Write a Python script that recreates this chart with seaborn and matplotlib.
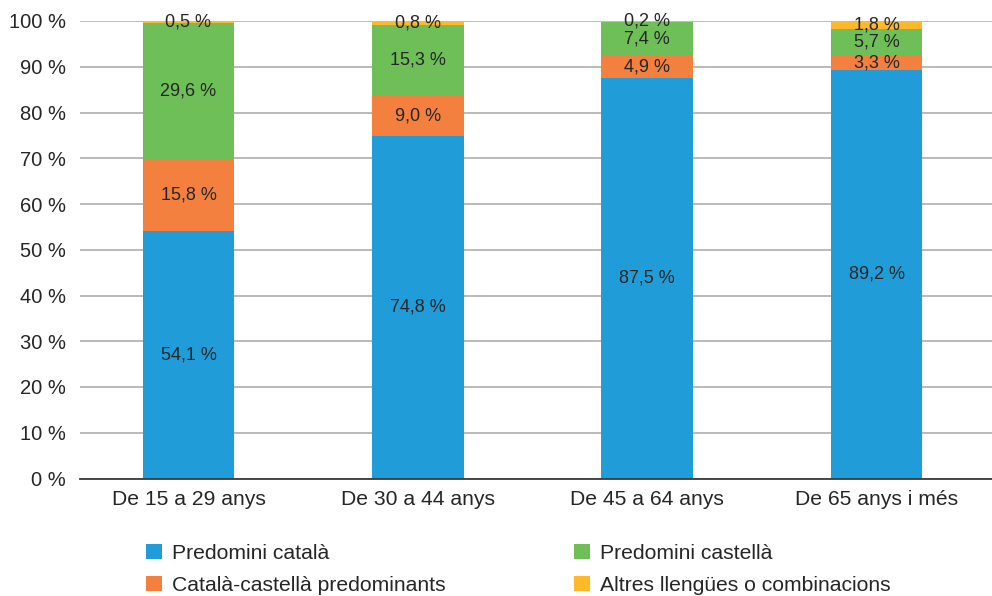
import matplotlib
matplotlib.use("Agg")
import matplotlib.pyplot as plt
from matplotlib.patches import Patch
import numpy as np
import pandas as pd
import seaborn as sns

# Age groups and language-use shares (%)
age_groups = ["De 15 a 29 anys", "De 30 a 44 anys", "De 45 a 64 anys", "De 65 anys i més"]
predomini_catala = [54.1, 74.8, 87.5, 89.2]
catala_castella = [15.8, 9.0, 4.9, 3.3]
predomini_castella = [29.6, 15.3, 7.4, 5.7]
altres = [0.5, 0.8, 0.2, 1.8]

series_names = ["Predomini català", "Català-castellà predominants",
                "Predomini castellà", "Altres llengües o combinacions"]
series_values = [predomini_catala, catala_castella, predomini_castella, altres]
series_colors = ["#209DD8", "#F3803E", "#6FBF59", "#FDB927"]

yticks = [0, 10, 20, 30, 40, 50, 60, 70, 80, 90, 100]

sns.set_theme(style="white")
plt.rcParams["font.family"] = ["Liberation Sans", "DejaVu Sans"]
text_color = "#262626"

fig = plt.figure(figsize=(9.92, 5.96), dpi=100)
ax = fig.add_axes([80 / 992, 1 - 478.5 / 596, 1 - 80 / 992, (478.5 - 21) / 596])

values = np.array(series_values)
tops = values.cumsum(axis=0)

# Stacked bars: draw cumulative totals from the top layer down
for i in range(len(series_names) - 1, -1, -1):
    df = pd.DataFrame({"grup": age_groups, "valor": tops[i]})
    sns.barplot(data=df, x="grup", y="valor", color=series_colors[i],
                saturation=1, width=0.4, ax=ax, zorder=3, linewidth=0)

# Segment value labels
for i in range(len(series_names)):
    for j in range(len(age_groups)):
        centre = tops[i, j] - values[i, j] / 2
        ax.text(j, centre, f"{values[i, j]:.1f} %".replace(".", ","),
                ha="center", va="center", fontsize=13, color=text_color, zorder=4)

ax.set_xlim(-0.473, 3.503)
ax.set_ylim(0, 100)
ax.set_yticks(yticks)
ax.set_yticklabels([f"{v} %" for v in yticks])
ax.set_xlabel("")
ax.set_ylabel("")
ax.yaxis.grid(True, color="#b4b4b4", linewidth=1.3, zorder=0)
ax.xaxis.grid(False)
ax.set_axisbelow(True)
for s in ["top", "right", "left"]:
    ax.spines[s].set_visible(False)
ax.spines["bottom"].set_color("#3a3a3a")
ax.spines["bottom"].set_linewidth(1.3)
ax.spines["bottom"].set_zorder(5)
ax.tick_params(axis="y", length=0, pad=10, labelsize=14.5, labelcolor=text_color)
ax.tick_params(axis="x", length=0, pad=8.5, labelsize=15.2, labelcolor=text_color)

handles = [Patch(facecolor=c, edgecolor="none") for c in series_colors]
fig.legend(handles, series_names, ncol=2, loc="upper left",
           bbox_to_anchor=(146 / 992, 1 - 544 / 596), frameon=False,
           fontsize=15.2, labelcolor=text_color, handlelength=0.75,
           handleheight=0.75, handletextpad=0.5, columnspacing=6.05,
           labelspacing=0.6, borderaxespad=0, borderpad=0)

fig.savefig("out.png", dpi=100)
